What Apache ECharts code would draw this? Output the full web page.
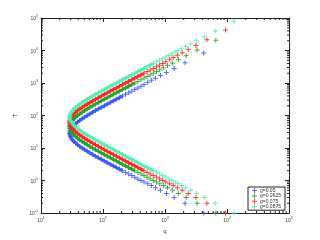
<!DOCTYPE html>
<html><head><meta charset="utf-8">
<script src="https://cdn.jsdelivr.net/npm/echarts@6/dist/echarts.min.js"></script>
<style>html,body{margin:0;padding:0;background:#fff}#c{width:320px;height:240px}</style>
</head><body><div id="c"></div>
<script>
// legend labels and colours
const gLabels = ['g=0.05', 'g=0.0625', 'g=0.075', 'g=0.0875'];
const colors = ['#3355ff', '#22a022', '#ff2020', '#4cf0b0'];

// dense band: q values shared by all four curves (same shape, shifted in T)
const qBand = [29, 29.19, 29.77, 30.75, 32.13, 33.94, 36.20, 38.94, 42.20, 46.01, 50.44, 55.53, 61.37, 68.02, 75.57, 84.12, 93.79, 104.7, 117.0, 130.9, 146.5, 164.0, 183.7, 205.8, 230.7, 258.7, 290.0, 325.3, 364.8, 409.2, 459.0, 514.9, 577.6, 648.0, 727.0, 815.7, 915.1, 1026.7, 1152.0, 1292.5, 1450.1];

// g = 0.05 (blue)
const blueBandUpper = [28.18, 31.62, 35.48, 39.81, 44.67, 50.12, 56.23, 63.10, 70.79, 79.43, 89.13, 100, 112.2, 125.9, 141.3, 158.5, 177.8, 199.5, 223.9, 251.2, 281.8, 316.2, 354.8, 398.1, 446.7, 501.2, 562.3, 631.0, 707.9, 794.3, 891.3];
const blueBandLower = [28.18, 25.12, 22.39, 19.95, 17.78, 15.85, 14.13, 12.59, 11.22, 10, 8.913, 7.943, 7.079, 6.310, 5.623, 5.012, 4.467, 3.981, 3.548, 3.162, 2.818, 2.512, 2.239, 1.995, 1.778, 1.585, 1.413, 1.259, 1.122, 1, 0.8913];
const blueTailQ = [4212, 2106, 1404, 1053, 842.5, 702.4, 602.1, 526.9];
const blueTailUpper = [8439, 4220, 2813, 2110, 1688, 1407, 1206, 1055];

// g = 0.0625 (green)
const greenBandUpper = [44.67, 50.12, 56.23, 63.10, 70.79, 79.43, 89.13, 100, 112.2, 125.9, 141.3, 158.5, 177.8, 199.5, 223.9, 251.2, 281.8, 316.2, 354.8, 398.1, 446.7, 501.2, 562.3, 631.0, 707.9, 794.3, 891.3, 1000, 1122, 1259, 1413, 1585, 1778, 1995, 2239];
const greenBandLower = [44.67, 39.81, 35.48, 31.62, 28.18, 25.12, 22.39, 19.95, 17.78, 15.85, 14.13, 12.59, 11.22, 10, 8.913, 7.943, 7.079, 6.310, 5.623, 5.012, 4.467, 3.981, 3.548, 3.162, 2.818, 2.512, 2.239, 1.995, 1.778, 1.585, 1.413, 1.259, 1.122, 1, 0.8913];
const greenTailQ = [6583, 3292, 2194, 1646, 1317, 1097, 940.5, 823.0];
const greenTailUpper = [20612, 10306, 6871, 5153, 4122, 3435, 2945, 2577];

// g = 0.075 (red)
const redBandUpper = [63.10, 70.79, 79.43, 89.13, 100, 112.2, 125.9, 141.3, 158.5, 177.8, 199.5, 223.9, 251.2, 281.8, 316.2, 354.8, 398.1, 446.7, 501.2, 562.3, 631.0, 707.9, 794.3, 891.3, 1000, 1122, 1259, 1413, 1585, 1778, 1995, 2239, 2512, 2818, 3162, 3548, 3981, 4467];
const redBandLower = [63.10, 56.23, 50.12, 44.67, 39.81, 35.48, 31.62, 28.18, 25.12, 22.39, 19.95, 17.78, 15.85, 14.13, 12.59, 11.22, 10, 8.913, 7.943, 7.079, 6.310, 5.623, 5.012, 4.467, 3.981, 3.548, 3.162, 2.818, 2.512, 2.239, 1.995, 1.778, 1.585, 1.413, 1.259, 1.122, 1, 0.8913];
const redTailQ = [9483, 4742, 3161, 2371, 1897, 1581, 1355, 1186];
const redTailUpper = [42772, 21386, 14257, 10693, 8554, 7129, 6110, 5347];

// g = 0.0875 (aquamarine)
const aquaBandUpper = [89.13, 100, 112.2, 125.9, 141.3, 158.5, 177.8, 199.5, 223.9, 251.2, 281.8, 316.2, 354.8, 398.1, 446.7, 501.2, 562.3, 631.0, 707.9, 794.3, 891.3, 1000, 1122, 1259, 1413, 1585, 1778, 1995, 2239, 2512, 2818, 3162, 3548, 3981, 4467, 5012, 5623, 6310, 7079, 7943, 8913];
const aquaBandLower = [89.13, 79.43, 70.79, 63.10, 56.23, 50.12, 44.67, 39.81, 35.48, 31.62, 28.18, 25.12, 22.39, 19.95, 17.78, 15.85, 14.13, 12.59, 11.22, 10, 8.913, 7.943, 7.079, 6.310, 5.623, 5.012, 4.467, 3.981, 3.548, 3.162, 2.818, 2.512, 2.239, 1.995, 1.778, 1.585, 1.413, 1.259, 1.122, 1, 0.8913];
const aquaTailQ = [12905, 6453, 4302, 3226, 2581, 2151, 1844, 1613];
const aquaTailUpper = [79210, 39605, 26403, 19803, 15842, 13202, 11316, 9901];

// lower-branch T of the sparse tail points (same for every curve)
const tailLower = [0.1, 0.2, 0.3, 0.4, 0.5, 0.6, 0.7, 0.8];
// number of band points that merge into a continuous stroke, per curve
const solidCount = [24, 28, 31, 34];

// axis ticks
const xMajor = [10, 100, 1000, 10000, 100000];
const yMajor = [0.1, 1, 10, 100, 1000, 10000, 100000];
const minorMult = [2, 3, 4, 5, 6, 7, 8, 9];

function build(bu, bl, tq, tu) {
  const d = [];
  for (let i = 0; i < bu.length; i++) { d.push([qBand[i], bu[i]]); d.push([qBand[i], bl[i]]); }
  for (let i = 0; i < tq.length; i++) { d.push([tq[i], tu[i]]); d.push([tq[i], tailLower[i]]); }
  return d;
}
function stroke(bu, bl, n) {
  const d = [];
  for (let i = n - 1; i >= 0; i--) d.push([qBand[i], bu[i]]);
  for (let i = 1; i < n; i++) d.push([qBand[i], bl[i]]);
  return d;
}
const bands = [
  [blueBandUpper, blueBandLower, blueTailQ, blueTailUpper],
  [greenBandUpper, greenBandLower, greenTailQ, greenTailUpper],
  [redBandUpper, redBandLower, redTailQ, redTailUpper],
  [aquaBandUpper, aquaBandLower, aquaTailQ, aquaTailUpper]
];
const seriesData = bands.map(b => build(b[0], b[1], b[2], b[3]));
const strokeData = bands.map((b, i) => stroke(b[0], b[1], solidCount[i]));

const xMinor = [], yMinor = [];
xMajor.slice(0, -1).forEach(b => minorMult.forEach(m => xMinor.push([b * m, 1])));
yMajor.slice(0, -1).forEach(b => minorMult.forEach(m => yMinor.push([100, b * m])));

const plus = 'path://M4,0H6V4H10V6H6V10H4V6H0V4H4Z';
const FONT = 'Liberation Sans';
const AX = '#222';
const labelFmt = v => {
  const e = Math.round(Math.log10(v));
  return '{b|10}{s|' + e + '}';
};
const rich = {
  b: { fontSize: 5, color: '#444', fontFamily: FONT, lineHeight: 7, verticalAlign: 'bottom' },
  s: { fontSize: 3.5, color: '#444', fontFamily: FONT, lineHeight: 7, verticalAlign: 'top' }
};

const chart = echarts.init(document.getElementById('c'), null, { renderer: 'canvas' });
const baseAxis = {
  type: 'log', logBase: 10,
  axisLine: { show: true, lineStyle: { color: AX, width: 1 } },
  axisTick: { show: true, inside: true, length: 4, lineStyle: { color: AX, width: 1 } },
  splitLine: { show: false },
  interval: 1
};
const option = {
  animation: false,
  backgroundColor: '#fff',
  grid: { left: 41, right: 31, top: 18, bottom: 27 },
  xAxis: [
    Object.assign({}, baseAxis, {
      position: 'bottom', min: 10, max: 100000,
      name: 'q', nameLocation: 'middle', nameGap: 12,
      nameTextStyle: { fontSize: 6, color: '#333', fontFamily: FONT },
      axisLabel: { formatter: labelFmt, rich: rich, margin: 3, showMinLabel: true, showMaxLabel: true }
    }),
    Object.assign({}, baseAxis, { position: 'top', min: 10, max: 100000, axisLabel: { show: false } })
  ],
  yAxis: [
    Object.assign({}, baseAxis, {
      position: 'left', min: 0.1, max: 100000,
      name: 'T', nameLocation: 'middle', nameGap: 15, nameRotate: 90,
      nameTextStyle: { fontSize: 6, color: '#333', fontFamily: FONT },
      axisLabel: { formatter: labelFmt, rich: rich, margin: 3, showMinLabel: true, showMaxLabel: true }
    }),
    Object.assign({}, baseAxis, { position: 'right', min: 0.1, max: 100000, axisLabel: { show: false } })
  ],
  legend: {
    data: gLabels,
    orient: 'vertical',
    left: 248, top: 187,
    itemWidth: 5, itemHeight: 5, itemGap: 0.4,
    padding: [1, 4, 1, 4],
    borderColor: '#222', borderWidth: 1,
    backgroundColor: '#fff',
    textStyle: { fontSize: 5, color: '#333', fontFamily: FONT, padding: [0, 0, 0, -2] }
  },
  series: gLabels.map((name, i) => ({
    name: name + ' band',
    type: 'line',
    data: strokeData[i],
    showSymbol: false,
    symbol: 'none',
    silent: true,
    lineStyle: { color: colors[i], width: 3, opacity: 0.9 },
    z: 2 + i
  })).concat(gLabels.map((name, i) => ({
    name: name,
    type: 'scatter',
    symbol: plus,
    symbolSize: 5,
    itemStyle: { color: colors[i], opacity: 0.85 },
    data: seriesData[i],
    z: 2 + i
  }))).concat([
    {
      type: 'custom', silent: true, z: 10,
      data: xMinor,
      renderItem: function (params, api) {
        const v = api.value(0);
        const b = api.coord([v, 0.1]);
        const t = api.coord([v, 100000]);
        return { type: 'group', children: [
          { type: 'line', shape: { x1: b[0], y1: b[1], x2: b[0], y2: b[1] - 2 }, style: { stroke: AX, lineWidth: 1 } },
          { type: 'line', shape: { x1: t[0], y1: t[1], x2: t[0], y2: t[1] + 2 }, style: { stroke: AX, lineWidth: 1 } }
        ] };
      }
    },
    {
      type: 'custom', silent: true, z: 10,
      data: yMinor,
      renderItem: function (params, api) {
        const v = api.value(1);
        const l = api.coord([10, v]);
        const r = api.coord([100000, v]);
        return { type: 'group', children: [
          { type: 'line', shape: { x1: l[0], y1: l[1], x2: l[0] + 2, y2: l[1] }, style: { stroke: AX, lineWidth: 1 } },
          { type: 'line', shape: { x1: r[0], y1: r[1], x2: r[0] - 2, y2: r[1] }, style: { stroke: AX, lineWidth: 1 } }
        ] };
      }
    }
  ])
};
chart.setOption(option);
</script>
</body></html>
